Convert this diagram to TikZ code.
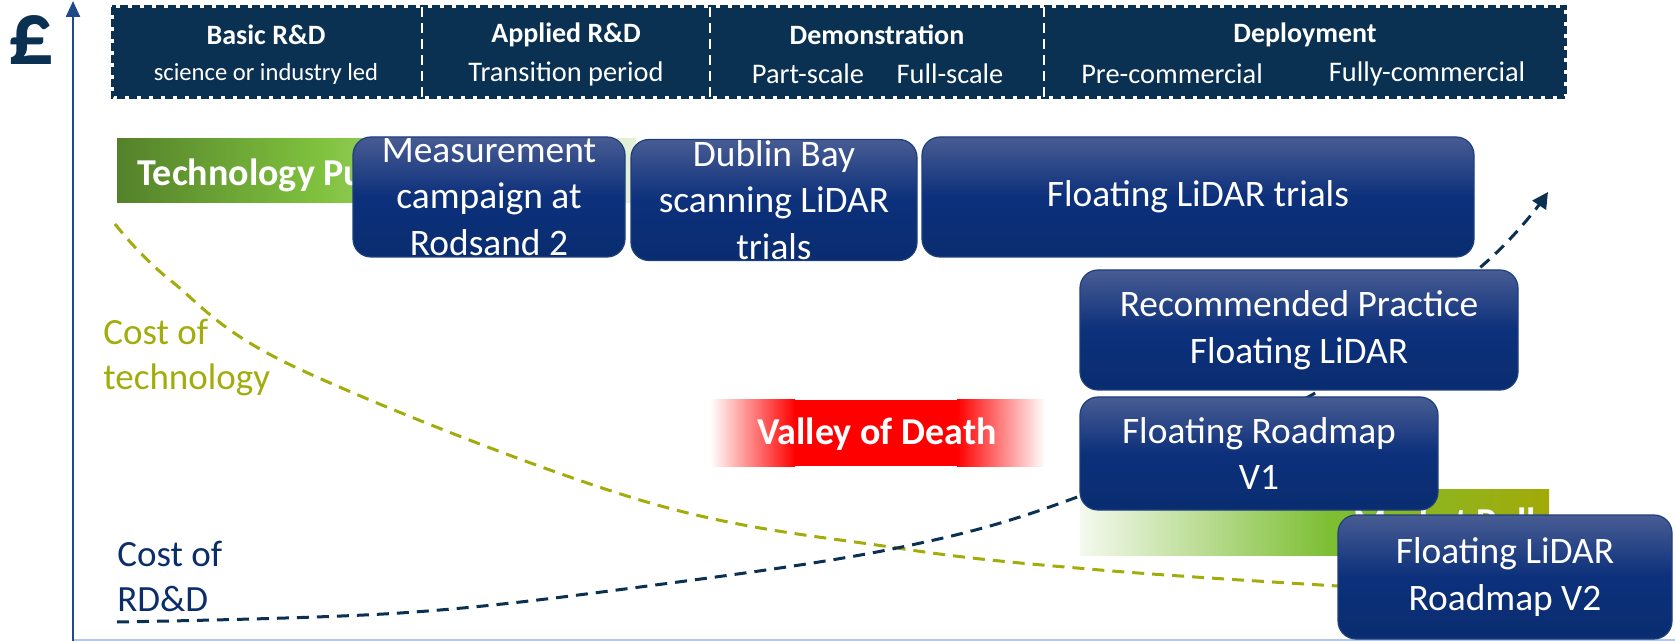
\documentclass[tikz,border=0pt]{standalone}
\usepackage{fontspec}
\setmainfont{Carlito}
\usetikzlibrary{arrows.meta}
\definecolor{headnavy}{HTML}{0A3152}
\definecolor{boxtop}{HTML}{485C93}
\definecolor{boxmid}{HTML}{0C307B}
\definecolor{boxbot}{HTML}{0A2D70}
\definecolor{boxedge}{HTML}{1E3F7E}
\definecolor{axisblue}{HTML}{1F4A8A}
\definecolor{lightaxis}{HTML}{B4C7E7}
\definecolor{olivec}{HTML}{A2AD0C}
\definecolor{rdnavy}{HTML}{0B2D6B}
\definecolor{curvenavy}{HTML}{0A3152}
\definecolor{tpA}{HTML}{54812A}
\definecolor{tpB}{HTML}{80C23E}
\definecolor{tpC}{HTML}{E6F1DC}
\definecolor{mpA}{HTML}{F4F9EF}
\definecolor{mpB}{HTML}{7DBE33}
\definecolor{mpC}{HTML}{A2AA08}
\definecolor{vred}{HTML}{FF0000}
\begin{document}
\begin{tikzpicture}[x=0.5pt,y=-0.5pt,
  bluebox/.style={draw=boxedge, line width=0.6pt, rounded corners=9pt,
    top color=boxtop, bottom color=boxbot, middle color=boxmid,
    text=white, font=\fontsize{18.7}{23.3}\selectfont, align=center, inner sep=0pt},
  headbold/.style={text=white, font=\bfseries\fontsize{14}{16}\selectfont, inner sep=0pt},
  headsub/.style={text=white, font=\fontsize{14.2}{16}\selectfont, inner sep=0pt},
  bartext/.style={text=white, font=\bfseries\fontsize{19}{21}\selectfont, inner sep=0pt},
  costlabel/.style={font=\fontsize{18.5}{22.5}\selectfont, align=left, inner sep=0pt},
  curve/.style={line width=1.5pt, dash pattern=on 6pt off 4pt},
  divider/.style={draw=white, line width=1.2pt, dash pattern=on 5pt off 3pt}
]
\useasboundingbox (0,0) rectangle (1675,641);

% header band
\fill[headnavy] (113.5,8.5) rectangle (1563.5,96.5);
\draw[headnavy, line width=1.5pt, dash pattern=on 4pt off 2pt] (112,7) rectangle (1565,98);
\draw[divider] (422,7) -- (422,98);
\draw[divider] (710,7) -- (710,98);
\draw[divider] (1044,7) -- (1044,98);
\node[headbold] (h1) at (266,35) {Basic R\&D};
\node[headsub, font=\fontsize{12.3}{14}\selectfont] (s1) at (266,74) {science or industry led};
\node[headbold] (h2) at (566,35) {Applied R\&D};
\node[headsub] (s2) at (566,74) {Transition period};
\node[headbold] (h3) at (877,35) {Demonstration};
\node[headsub] (s3a) at (808,74) {Part-scale};
\node[headsub] (s3b) at (950,74) {Full-scale};
\node[headbold] (h4) at (1305,35) {Deployment};
\node[headsub] (s4a) at (1172,74) {Pre-commercial};
\node[headsub] (s4b) at (1427,74) {Fully-commercial};

% pound sign and axes
\node[text=headnavy, font=\bfseries\fontsize{45}{47}\selectfont, inner sep=0pt] (pound) at (31,40) {£};
\draw[lightaxis, line width=1pt] (73,640) -- (1675,640);
\coordinate (ax0) at (73,641);
\coordinate (ax1) at (73,1);
\draw[axisblue, line width=1.2pt, -{Triangle[length=8pt,width=7pt]}] (ax0) -- (ax1);

% technology push bar
\fill[left color=tpA, right color=tpB] (117,139) rectangle (320,203);
\fill[left color=tpB, right color=tpC] (319.5,139) rectangle (636,203);
\node[bartext, anchor=west] (tpush) at (137,175) {Technology Push};

% market pull bar
\fill[left color=mpA, right color=mpB] (1080,489) rectangle (1330,555);
\fill[left color=mpB, right color=mpC] (1329.5,489) rectangle (1549,555);
\node[bartext] (mpull) at (1445,521) {Market Pull};

% valley of death
\fill[left color=white, right color=vred] (710,400) rectangle (795,466);
\fill[vred] (794.5,400) rectangle (957.5,466);
\fill[left color=vred, right color=white] (957,400) rectangle (1045,466);
\node[bartext] (valley) at (877,434) {Valley of Death};

% curves
\draw[curve, olivec] plot[smooth, tension=0.6] coordinates
  {(115,224) (170,280) (297,368) (640,500) (897,548) (1100,570) (1338,586)};
\draw[curve, curvenavy, -{Triangle[length=8pt,width=8pt]}] plot[smooth, tension=0.6] coordinates
  {(117,622) (400,613) (640,587) (897,548) (1080,496) (1317,392) (1483,265) (1548,192)};

% labels
\node[costlabel, text=olivec, anchor=west] (ctech) at (103,357) {Cost of\\technology};
\node[costlabel, text=rdnavy, anchor=west] (crdd) at (117,576) {Cost of\\RD\&D};

% boxes
\node[bluebox, minimum width=136pt, minimum height=60pt] (meas) at (489,197) {Measurement\\campaign at\\Rodsand 2};
\node[bluebox, minimum width=143pt, minimum height=60.5pt] (dublin) at (774,200) {Dublin Bay\\scanning LiDAR\\trials};
\node[bluebox, minimum width=276pt, minimum height=60pt] (trials) at (1198,197) {Floating LiDAR trials};
\node[bluebox, minimum width=219pt, minimum height=60pt] (rp) at (1299,330) {Recommended Practice\\Floating LiDAR};
\node[bluebox, minimum width=179pt, minimum height=56.5pt] (v1) at (1259,453.5) {Floating Roadmap\\V1};
\node[bluebox, minimum width=167pt, minimum height=62pt] (v2) at (1505,577) {Floating LiDAR\\Roadmap V2};
\end{tikzpicture}
\end{document}
